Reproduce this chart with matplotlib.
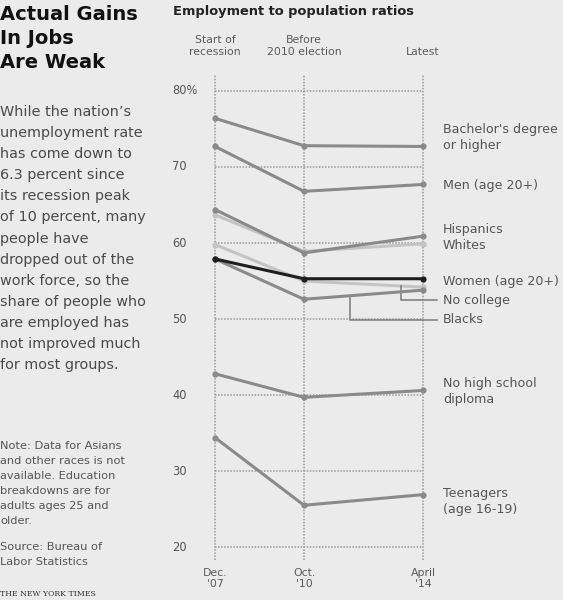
import matplotlib
matplotlib.use("Agg")
import matplotlib.pyplot as plt

# ---------------- data ----------------
periods = ["Dec.\n'07", "Oct.\n'10", "April\n'14"]
period_headers = ["Start of\nrecession", "Before\n2010 election", "Latest"]

bachelors = [76.4, 72.8, 72.7]
men = [72.7, 66.8, 67.7]
hispanics = [64.4, 58.7, 60.9]
whites = [63.7, 58.9, 59.9]
women = [57.9, 55.3, 55.3]
no_college = [59.8, 55.0, 54.2]
blacks = [57.9, 52.6, 53.8]
no_high_school = [42.8, 39.7, 40.6]
teenagers = [34.4, 25.5, 26.9]

y_ticks = [20, 30, 40, 50, 60, 70, 80]
y_tick_labels = ["20", "30", "40", "50", "60", "70", "80%"]

# ---------------- layout ----------------
W, H = 563, 600
BG = "#ebebeb"
fig = plt.figure(figsize=(W / 100, H / 100), dpi=100, facecolor=BG)
FONT = "DejaVu Sans"


def fx(x):
    return x / W


def fy(y):
    return 1 - y / H


xpos = [0.0, 1.0, 2.337]          # horizontal placement of the three dates
ax_left, ax_right, ax_top, ax_bot = 215, 423, 75, 560
ax = fig.add_axes([fx(ax_left), fy(ax_bot), (ax_right - ax_left) / W, (ax_bot - ax_top) / H])
ax.set_facecolor("none")
ax.set_xlim(xpos[0], xpos[-1])
ax.set_ylim(18.3, 82.1)
ax.axis("off")

grid_kw = dict(color="#9a9a9a", linewidth=1.1, linestyle=(0, (1, 1)), zorder=1, clip_on=False)
for xv in xpos:
    ax.axvline(xv, **grid_kw)
ax.hlines(y_ticks, xpos[0], xpos[-1], **grid_kw)

# tick labels
for v, lab in zip(y_ticks, y_tick_labels):
    ax.annotate(lab, xy=(0, v), xycoords=("axes fraction", "data"),
                xytext=(-31, 0), textcoords="offset points",
                ha="left", va="center", fontsize=8.3, color="#555555", family=FONT)

MID = "#8a8a8a"
LIGHT = "#c4c4c4"
DARK = "#1e1e1e"
lw = 2.2
ms = 4.5

series = [
    (whites, LIGHT, 2),
    (no_college, LIGHT, 2),
    (bachelors, MID, 3),
    (men, MID, 3),
    (hispanics, MID, 3),
    (blacks, MID, 3),
    (no_high_school, MID, 3),
    (teenagers, MID, 3),
    (women, DARK, 4),
]
for vals, col, z in series:
    ax.plot(xpos, vals, color=col, linewidth=lw, marker="o", markersize=ms,
            markeredgewidth=0, zorder=z, clip_on=False, solid_capstyle="round")

# connectors for No college and Blacks
lab_x = 2.56
conn_end = 2.49


def seg_val(vals, x):
    return vals[1] + (vals[2] - vals[1]) * (x - xpos[1]) / (xpos[2] - xpos[1])


cx1 = 2.09
ax.plot([cx1, cx1, conn_end], [seg_val(no_college, cx1), 52.5, 52.5],
        color="#7a7a7a", linewidth=1.1, zorder=2, clip_on=False)
cx2 = 1.517
ax.plot([cx2, cx2, conn_end], [seg_val(blacks, cx2), 49.9, 49.9],
        color="#7a7a7a", linewidth=1.1, zorder=2, clip_on=False)

# series labels
labels = [
    ("Bachelor's degree\nor higher", 73.9),
    ("Men (age 20+)", 67.5),
    ("Hispanics", 61.8),
    ("Whites", 59.7),
    ("Women (age 20+)", 54.9),
    ("No college", 52.5),
    ("Blacks", 49.9),
    ("No high school\ndiploma", 40.4),
    ("Teenagers\n(age 16-19)", 26.0),
]
for txt, yv in labels:
    ax.text(lab_x, yv, txt, ha="left", va="center", fontsize=9.1, color="#555555",
            family=FONT, linespacing=1.3, clip_on=False)

# column headers
for xv, txt in zip(xpos, period_headers):
    ax.annotate(txt, xy=(xv, 1), xycoords=("data", "axes fraction"),
                xytext=(0, 13), textcoords="offset points", ha="center", va="bottom",
                fontsize=7.8, color="#5a5a5a", family=FONT, linespacing=1.25)
# bottom date labels
for xv, txt in zip(xpos, periods):
    ax.annotate(txt, xy=(xv, 0), xycoords=("data", "axes fraction"),
                xytext=(0, -6), textcoords="offset points", ha="center", va="top",
                fontsize=7.8, color="#5a5a5a", family=FONT, linespacing=1.1)

# ---------------- surrounding text ----------------
title_lines = ["Actual Gains", "In Jobs", "Are Weak"]
for i, t in enumerate(title_lines):
    fig.text(fx(0), fy(14 + 24 * i), t, ha="left", va="center", fontsize=14,
             fontweight="bold", color="#111111", family=FONT)

fig.text(fx(173), fy(12), "Employment to population ratios", ha="left", va="center",
         fontsize=9.4, fontweight="bold", color="#222222", family=FONT)

body = ["While the nation\u2019s", "unemployment rate", "has come down to",
        "6.3 percent since", "its recession peak", "of 10 percent, many",
        "people have", "dropped out of the", "work force, so the",
        "share of people who", "are employed has", "not improved much",
        "for most groups."]
for i, t in enumerate(body):
    fig.text(fx(0), fy(112 + 21.1 * i), t, ha="left", va="center", fontsize=10.4,
             color="#4a4a4a", family=FONT)

note = ["Note: Data for Asians", "and other races is not", "available. Education",
        "breakdowns are for", "adults ages 25 and", "older."]
for i, t in enumerate(note):
    fig.text(fx(0), fy(446 + 15 * i), t, ha="left", va="center", fontsize=8.2,
             color="#555555", family=FONT)

source = ["Source: Bureau of", "Labor Statistics"]
for i, t in enumerate(source):
    fig.text(fx(0), fy(547 + 15 * i), t, ha="left", va="center", fontsize=8.2,
             color="#555555", family=FONT)

fig.text(fx(0), fy(594), "THE NEW YORK TIMES", ha="left", va="center", fontsize=5.6,
         color="#333333", family="DejaVu Serif")

fig.savefig("out.png", dpi=100, facecolor=BG)
